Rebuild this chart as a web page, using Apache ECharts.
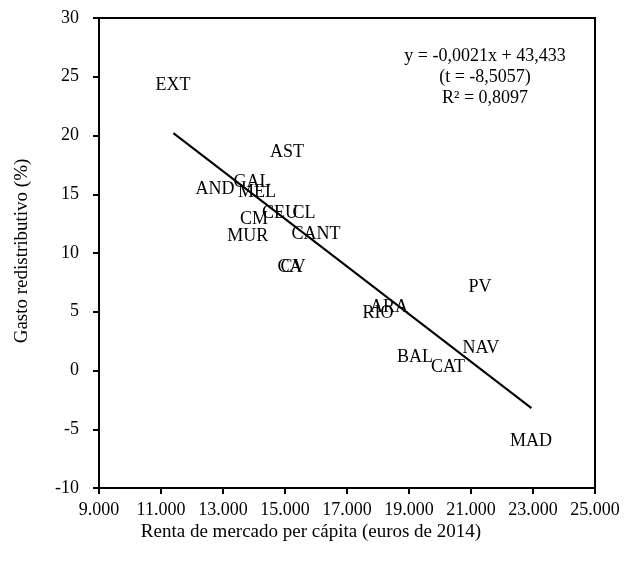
<!DOCTYPE html>
<html>
<head>
<meta charset="utf-8">
<script src="https://cdn.jsdelivr.net/npm/echarts@6/dist/echarts.min.js"></script>
<style>
html,body{margin:0;padding:0;background:#fff;}
#chart{width:629px;height:564px;}
</style>
</head>
<body>
<div id="chart"></div>
<script>
// Region labels and their values
const regions = ['EXT','AST','GAL','AND','MEL','CM','CEU','CL','MUR','CANT','CA','CV','RIO','ARA','PV','NAV','BAL','CAT','MAD'];
const renta   = [11390,15065,13935,12740,14100,14000,14840,15610,13800,16000,15160,15260,18000,18355,21290,21320,19190,20260,22935];
const gasto   = [24.3,18.6,16.0,15.4,15.2,12.9,13.4,13.4,11.4,11.6,8.8,8.8,4.9,5.4,7.1,1.9,1.1,0.3,-6.0];

// Trend line end points
const trendX = [11400, 22950];
const trendY = [20.2, -3.2];

const xTicks = {min: 9000, max: 25000, interval: 2000};
const yTicks = {min: -10, max: 30, interval: 5};

const eqLines = ['y = -0,0021x + 43,433', '(t = -8,5057)', 'R² = 0,8097'];
const xTitle = 'Renta de mercado per cápita (euros de 2014)';
const yTitle = 'Gasto redistributivo (%)';

const FONT = '"Liberation Serif", "DejaVu Serif", serif';

const chart = echarts.init(document.getElementById('chart'), null, {renderer: 'canvas'});

function fmtThousands(v){
  const s = String(Math.round(v));
  return s.replace(/\B(?=(\d{3})+(?!\d))/g, '.');
}

const option = {
  animation: false,
  backgroundColor: '#fff',
  grid: {left: 99, right: 34, top: 18, bottom: 76, show: true, borderColor: '#000', borderWidth: 2, backgroundColor: 'transparent'},
  xAxis: {
    type: 'value', min: xTicks.min, max: xTicks.max, interval: xTicks.interval,
    axisLine: {show: true, onZero: false, lineStyle: {color: '#000', width: 2}},
    axisTick: {show: true, inside: false, length: 6, lineStyle: {color: '#000', width: 2}},
    axisLabel: {color: '#000', fontFamily: FONT, fontSize: 18, margin: 13, formatter: fmtThousands},
    splitLine: {show: false}
  },
  yAxis: {
    type: 'value', min: yTicks.min, max: yTicks.max, interval: yTicks.interval,
    axisLine: {show: true, onZero: false, lineStyle: {color: '#000', width: 2}},
    axisTick: {show: true, inside: false, length: 6, lineStyle: {color: '#000', width: 2}},
    axisLabel: {color: '#000', fontFamily: FONT, fontSize: 18, margin: 20},
    splitLine: {show: false}
  },
  series: [
    {
      type: 'line',
      data: trendX.map((x, i) => [x, trendY[i]]),
      showSymbol: false,
      symbol: 'none',
      lineStyle: {color: '#000', width: 2},
      z: 3
    },
    {
      type: 'scatter',
      data: regions.map((n, i) => ({name: n, value: [renta[i], gasto[i]]})),
      symbolSize: 1,
      itemStyle: {color: '#fff', opacity: 1},
      label: {
        show: true, position: 'inside', formatter: p => p.name,
        color: '#000', opacity: 1, fontFamily: FONT, fontSize: 18,
        textBorderWidth: 0, textBorderColor: 'transparent'
      },
      emphasis: {disabled: true},
      z: 2
    }
  ],
  graphic: [
    {
      type: 'text', x: 485, y: 77,
      style: {
        text: eqLines.join('\n'), fill: '#000', font: '18px ' + FONT,
        align: 'center', verticalAlign: 'middle', lineHeight: 21
      }
    },
    {
      type: 'text', x: 311, y: 532,
      style: {text: xTitle, fill: '#000', font: '19px ' + FONT, align: 'center', verticalAlign: 'middle'}
    },
    {
      type: 'text', x: 22, y: 251, rotation: Math.PI / 2,
      style: {text: yTitle, fill: '#000', font: '19px ' + FONT, align: 'center', verticalAlign: 'middle'}
    }
  ]
};
chart.setOption(option);
</script>
</body>
</html>
